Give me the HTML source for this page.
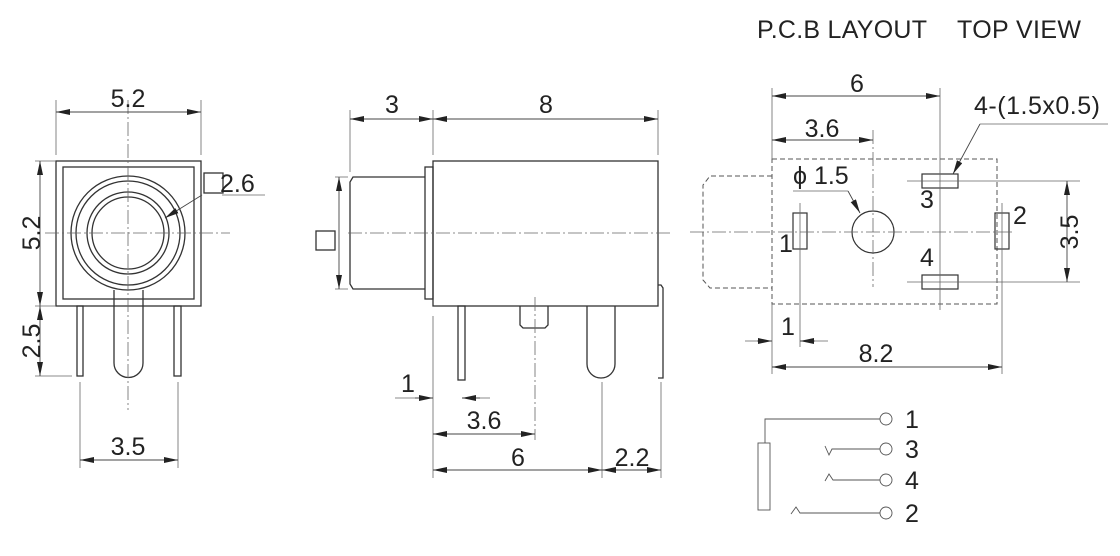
<!DOCTYPE html>
<html><head><meta charset="utf-8"><style>
html,body{margin:0;padding:0;background:#fff;}
svg{display:block;}
text{font-family:"Liberation Sans",Arial,sans-serif;fill:#222;}
</style></head><body>
<svg width="1120" height="556" viewBox="0 0 1120 556" xmlns="http://www.w3.org/2000/svg" font-size="25">
<defs>
<marker id="a" viewBox="0 0 14 6" refX="14" refY="3" markerWidth="14" markerHeight="6" markerUnits="userSpaceOnUse" orient="auto-start-reverse">
<path d="M0,0 L14,3 L0,6 z" fill="#222"/></marker>
</defs>
<g fill="none" stroke="#333" stroke-width="1.3">
<!-- LEFT VIEW -->
<rect x="56" y="161" width="145" height="145"/>
<rect x="63" y="167" width="131" height="132"/>
<circle cx="128" cy="233" r="57"/>
<circle cx="128" cy="233" r="52"/>
<circle cx="128" cy="233" r="41"/>
<circle cx="128" cy="233" r="36"/>
<rect x="204" y="173" width="19" height="20"/>
<path d="M114,290 V363 A14.5,14.5 0 0 0 143,363 V290"/>
<rect x="77" y="306" width="6" height="70"/>
<rect x="174" y="306" width="7" height="70"/>
</g>
<g fill="none" stroke="#666" stroke-width="0.8">
<path d="M128,100 V410" stroke-dasharray="14,3,2,3"/>
<path d="M45,233 H230" stroke-dasharray="14,3,2,3"/>
<path d="M56,100 V155 M201,100 V155"/>
<path d="M35,161 H56 M35,306 H56 M35,376 H72"/>
<path d="M80,382 V468 M178,382 V468"/>
<path d="M222,195 H265"/>
</g>
<g fill="none" stroke="#444" stroke-width="0.9">
<path d="M56,112 H201" marker-start="url(#a)" marker-end="url(#a)"/>
<path d="M40,161 V306" marker-start="url(#a)" marker-end="url(#a)"/>
<path d="M40,306 V376" marker-start="url(#a)" marker-end="url(#a)"/>
<path d="M80,460 H178" marker-start="url(#a)" marker-end="url(#a)"/>
<path d="M202,195 L165,218" marker-end="url(#a)"/>
</g>
<text x="128" y="107" text-anchor="middle">5.2</text>
<text x="220" y="192">2.6</text>
<text x="128" y="455" text-anchor="middle">3.5</text>
<text transform="translate(40,233) rotate(-90)" text-anchor="middle">5.2</text>
<text transform="translate(40,341) rotate(-90)" text-anchor="middle">2.5</text>

<!-- MIDDLE VIEW -->
<g fill="none" stroke="#333" stroke-width="1.3">
<rect x="433" y="161" width="225" height="145"/>
<rect x="425" y="167" width="8" height="132"/>
<path d="M425,177 H353 L350,182 V284 L353,289 H425"/>
<rect x="316" y="231" width="19" height="19"/>
<path d="M658,285 H661 L663,288 V378 H658"/>
<rect x="458" y="306" width="7" height="74"/>
<path d="M520,306 V325 L523,328 H545 L548,325 V306"/>
<path d="M587,306 V364 A14,14 0 0 0 615,364 V306"/>
</g>
<g fill="none" stroke="#666" stroke-width="0.8">
<path d="M348,233 H672" stroke-dasharray="14,3,2,3"/>
<path d="M535,297 V440" stroke-dasharray="14,3,2,3"/>
<path d="M350,110 V172 M433,110 V155 M658,110 V155"/>
<path d="M433,316 V478 M602,382 V478 M661,382 V478"/>
<path d="M395,398 H433 M462,398 H490"/>
<path d="M335,177 H348 M335,289 H348"/>
</g>
<g fill="none" stroke="#444" stroke-width="0.9">
<path d="M350,119 H433" marker-start="url(#a)" marker-end="url(#a)"/>
<path d="M433,119 H658" marker-start="url(#a)" marker-end="url(#a)"/>
<path d="M339,177 V289" marker-start="url(#a)" marker-end="url(#a)"/>
<path d="M415,398 H433" marker-end="url(#a)"/>
<path d="M480,398 H462" marker-end="url(#a)"/>
<path d="M433,434 H535" marker-start="url(#a)" marker-end="url(#a)"/>
<path d="M433,470 H602" marker-start="url(#a)" marker-end="url(#a)"/>
<path d="M602,470 H661" marker-start="url(#a)" marker-end="url(#a)"/>
</g>
<text x="392" y="113" text-anchor="middle">3</text>
<text x="546" y="113" text-anchor="middle">8</text>
<text x="408" y="392" text-anchor="middle">1</text>
<text x="484" y="429" text-anchor="middle">3.6</text>
<text x="518" y="466" text-anchor="middle">6</text>
<text x="632" y="466" text-anchor="middle">2.2</text>

<!-- RIGHT VIEW -->
<text x="757" y="38" textLength="170">P.C.B LAYOUT</text>
<text x="957" y="38" textLength="124">TOP VIEW</text>
<g fill="none" stroke="#555" stroke-width="1" stroke-dasharray="5,3">
<rect x="772" y="159" width="225" height="145"/>
<path d="M772,176 H710 L703,185 V280 L710,288 H772"/>
</g>
<g fill="none" stroke="#333" stroke-width="1.2">
<rect x="793" y="213" width="14" height="36"/>
<rect x="995" y="213" width="14" height="36"/>
<rect x="922" y="174" width="36" height="14"/>
<rect x="922" y="275" width="36" height="14"/>
<circle cx="873" cy="232" r="21"/>
</g>
<g fill="none" stroke="#666" stroke-width="0.8">
<path d="M690,232 H1012" stroke-dasharray="14,3,2,3"/>
<path d="M873,130 V287" stroke-dasharray="14,3,2,3"/>
<path d="M907,181 H1080 M907,282 H1080"/>
<path d="M772,88 V159 M772,304 V374 M940,88 V310 M1002,203 V374 M800,203 V347"/>
<path d="M745,341 H772 M800,341 H828"/>
<path d="M793,191 H848 M980,124 H1108"/>
</g>
<g fill="none" stroke="#444" stroke-width="0.9">
<path d="M772,96 H940" marker-start="url(#a)" marker-end="url(#a)"/>
<path d="M772,140 H873" marker-start="url(#a)" marker-end="url(#a)"/>
<path d="M1067,181 V282" marker-start="url(#a)" marker-end="url(#a)"/>
<path d="M772,367 H1002" marker-start="url(#a)" marker-end="url(#a)"/>
<path d="M757,341 H772" marker-end="url(#a)"/>
<path d="M815,341 H800" marker-end="url(#a)"/>
<path d="M848,191 L860,213" marker-end="url(#a)"/>
<path d="M980,124 L953,174" marker-end="url(#a)"/>
</g>
<text x="857" y="92" text-anchor="middle">6</text>
<text x="822" y="137" text-anchor="middle">3.6</text>
<text x="793" y="184">ϕ 1.5</text>
<text x="974" y="114" textLength="126">4-(1.5x0.5)</text>
<text x="927" y="208" text-anchor="middle">3</text>
<text x="927" y="266" text-anchor="middle">4</text>
<text x="1020" y="224" text-anchor="middle">2</text>
<text x="786" y="252" text-anchor="middle">1</text>
<text x="788" y="335" text-anchor="middle">1</text>
<text x="876" y="362" text-anchor="middle">8.2</text>
<text transform="translate(1078,232) rotate(-90)" text-anchor="middle">3.5</text>

<!-- SCHEMATIC -->
<g fill="none" stroke="#555" stroke-width="0.9">
<circle cx="886" cy="419" r="6"/>
<circle cx="886" cy="449" r="6"/>
<circle cx="886" cy="480" r="6"/>
<circle cx="886" cy="513" r="6"/>
<path d="M880,419 H765 V443"/>
<rect x="758" y="443" width="12" height="67"/>
<path d="M880,449 H832 L829,455 L825,446"/>
<path d="M880,480 H833 L829,474 L825,481"/>
<path d="M880,513 H800 L796,507 L791,514"/>
</g>
<text x="912" y="428" text-anchor="middle">1</text>
<text x="912" y="458" text-anchor="middle">3</text>
<text x="912" y="489" text-anchor="middle">4</text>
<text x="912" y="522" text-anchor="middle">2</text>
</svg>
</body></html>
